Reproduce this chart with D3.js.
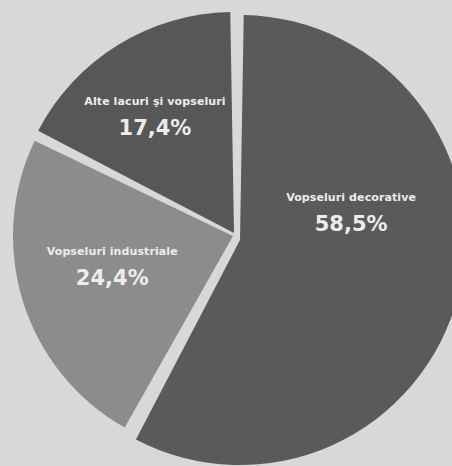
<!DOCTYPE html>
<html>
<head>
<meta charset="utf-8">
<script src="https://cdn.jsdelivr.net/npm/d3@7/dist/d3.min.js"></script>
<style>
  html, body { margin: 0; padding: 0; background: #d8d8d8; }
  svg { display: block; }
</style>
</head>
<body>
<svg id="chart" width="452" height="466"></svg>
<script>
// ---- data ----
const categories = ["Vopseluri decorative", "Vopseluri industriale", "Alte lacuri şi vopseluri"];
const values = [58.5, 24.4, 17.4];
const valueLabels = ["58,5%", "24,4%", "17,4%"];

// ---- layout / style (not data) ----
const W = 452, H = 466;
const center = [236, 234];
const sliceColors = ["#5a5a5a", "#8c8c8c", "#575757"];
const sliceRadius = [225, 220, 221];
const sliceShift = [[4, 6], [-3, 2], [-2, -1]];
// label anchors as polar [angle deg clockwise from top, radius]
const labelPolar = [[79.65, 117], [255.2, 128], [325.2, 142]];

const svg = d3.select("#chart");
svg.append("rect").attr("width", W).attr("height", H).attr("fill", "#d8d8d8");

const pie = d3.pie().sort(null).value(d => d).padAngle(0.034);
const arcs = pie(values);

const g = svg.append("g").attr("transform", `translate(${center[0]},${center[1]})`);

g.selectAll("path.slice")
  .data(arcs)
  .join("path")
  .attr("class", "slice")
  .attr("transform", (d, i) => `translate(${sliceShift[i][0]},${sliceShift[i][1]})`)
  .attr("fill", (d, i) => sliceColors[i])
  .attr("d", (d, i) => d3.arc().innerRadius(0).outerRadius(sliceRadius[i]).padRadius(220)(d));

const labels = g.selectAll("g.label")
  .data(arcs)
  .join("g")
  .attr("class", "label")
  .attr("transform", (d, i) => {
    const a = labelPolar[i][0] * Math.PI / 180, r = labelPolar[i][1];
    return `translate(${Math.sin(a) * r},${-Math.cos(a) * r})`;
  });

labels.append("text")
  .attr("text-anchor", "middle")
  .attr("y", -12)
  .attr("fill", "#ececec")
  .attr("font-family", "'DejaVu Sans', sans-serif")
  .attr("font-weight", 700)
  .attr("font-size", 11)
  .attr("letter-spacing", 0.1)
  .text((d, i) => categories[i]);

labels.append("text")
  .attr("text-anchor", "middle")
  .attr("y", 18)
  .attr("fill", "#ececec")
  .attr("font-family", "'DejaVu Sans', sans-serif")
  .attr("font-weight", 700)
  .attr("font-size", 21)
  .text((d, i) => valueLabels[i]);
</script>
</body>
</html>
